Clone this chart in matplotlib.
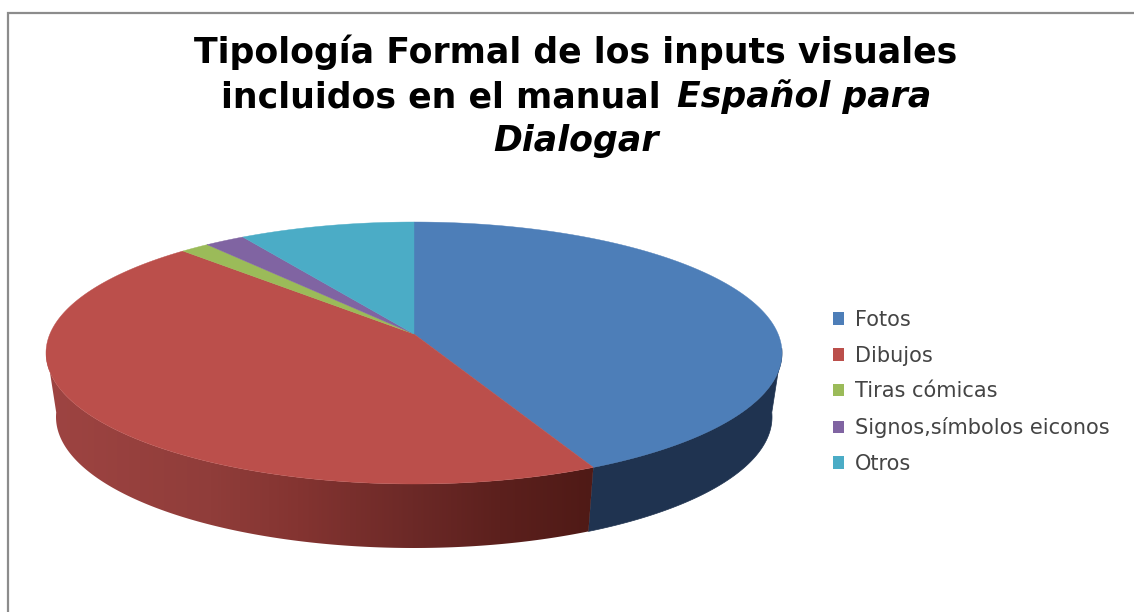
import numpy as np
import matplotlib
matplotlib.use("Agg")
import matplotlib.pyplot as plt
from matplotlib.patches import Patch, Polygon
from matplotlib.colors import LinearSegmentedColormap

categories = ["Fotos", "Dibujos", "Tiras cómicas", "Signos,símbolos eiconos", "Otros"]
values = [41.9, 47.3, 1.3, 1.8, 7.7]
colors = ["#4D7EB8", "#BB4F4B", "#9BBB59", "#8064A2", "#4BACC6"]
title_lines = ["Tipología Formal de los inputs visuales", "incluidos en el manual", "Español para", "Dialogar"]

W, H = 1134, 612
fig = plt.figure(figsize=(W / 100, H / 100), dpi=100)
ax = fig.add_axes([0, 0, 1, 1])
ax.set_xlim(0, W)
ax.set_ylim(H, 0)
ax.axis("off")

CX, CY, RX, RY = 414, 353, 368, 131
AX_, AY_ = 414, 334
BCY, BRX, BRY = 417, 358, 131


def top(t):
    return CX + RX * np.sin(t), CY - RY * np.cos(t)


def bottom(t):
    return CX + BRX * np.sin(t), BCY - BRY * np.cos(t)


def side(t0, t1):
    t = np.linspace(t0, t1, 200)
    tx, ty = top(t)
    bx, by = bottom(t)
    return np.column_stack([np.r_[tx, bx[::-1]], np.r_[ty, by[::-1]]])


ends = np.cumsum(values) / np.sum(values) * 2 * np.pi
starts = np.r_[0, ends[:-1]]

# side walls
ax.fill(*side(np.radians(88), ends[0]).T, color="#1F3350", lw=0.5, zorder=1)
red_poly = Polygon(side(ends[0], np.radians(272)), closed=True, fc="none", ec="none",
                   transform=ax.transData)
ax.add_patch(red_poly)
cmap = LinearSegmentedColormap.from_list(
    "wall", [(0, "#9E4442"), (.3, "#903D3A"), (.46, "#843431"), (.67, "#6C2927"),
             (.83, "#5C201D"), (1, "#4F1A16")])
img = ax.imshow(np.linspace(0, 1, 256)[None, :], extent=(46, 594, 560, 340), cmap=cmap,
                aspect="auto", zorder=1)
img.set_clip_path(red_poly)
ax.set_xlim(0, W)
ax.set_ylim(H, 0)

# top face
for s, e, c in zip(starts, ends, colors):
    tx, ty = top(np.linspace(s, e, 300))
    ax.fill(np.r_[AX_, tx], np.r_[AY_, ty], color=c, lw=0.3, zorder=2)

# frame (left and top only)
ax.plot([8, 8, W], [H, 13, 13], color="#8C8C8C", lw=1.6, zorder=3, solid_joinstyle="miter")

# title
fs = 25
kw = dict(fontsize=fs, fontweight="bold", family="DejaVu Sans", va="baseline", color="#000000")
t0 = ax.text(576, 63, title_lines[0], ha="center", **kw)
fig.canvas.draw()
r = fig.canvas.get_renderer()
a = ax.text(0, 107, title_lines[1], **kw)
b = ax.text(0, 107, title_lines[2], style="italic", **kw)
wa = a.get_window_extent(r).width + 16
wb = b.get_window_extent(r).width
a.set_x(576 - (wa + wb) / 2)
b.set_x(576 - (wa + wb) / 2 + wa)
ax.text(576, 151, title_lines[3], ha="center", style="italic", **kw)

# legend
handles = [Patch(fc=c, ec="none", label=l) for c, l in zip(colors, categories)]
ax.legend(handles=handles, loc="center left", bbox_to_anchor=(824.7 / W, 1 - 392 / H),
          frameon=False, prop={"family": "DejaVu Sans", "size": 15}, handlelength=0.53, handleheight=0.55,
          handletextpad=0.53, labelspacing=0.755, borderpad=0, borderaxespad=0.4, labelcolor="#444444")

fig.savefig("out.png", dpi=100)
